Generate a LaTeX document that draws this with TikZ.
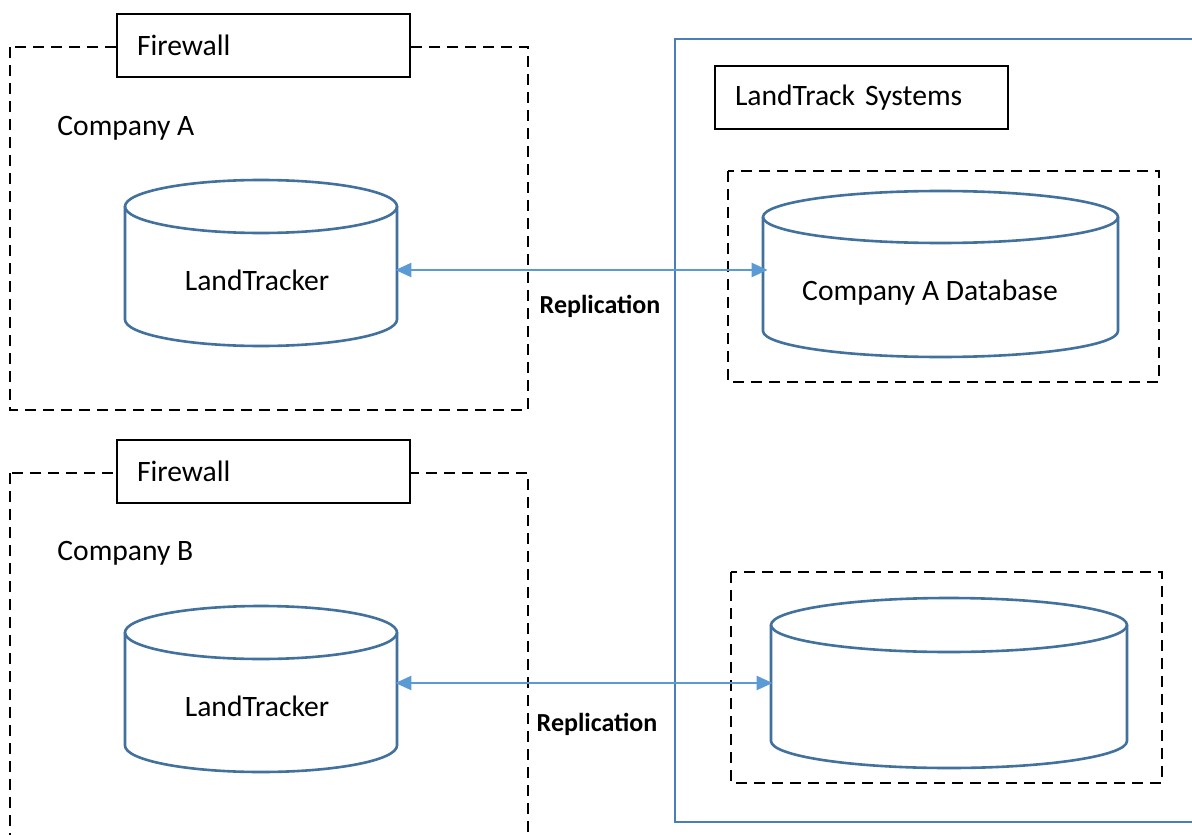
\documentclass[tikz,border=0pt]{standalone}
\usepackage{fontspec}
\setmainfont{Carlito}
\usetikzlibrary{arrows.meta}
\definecolor{cylblue}{HTML}{41719C}
\definecolor{arrblue}{HTML}{5B9BD5}
\definecolor{sysblue}{HTML}{4A7EBB}
\newcommand{\dbcyl}[6]{% name, x1, x2, ytop, ybot, ry
  \node[cylbox, minimum width={(#3-#2)*0.5pt}, minimum height={(#5-#4)*0.5pt}] (#1) at ({(#2+#3)/2},{(#4+#5)/2}) {};
  \draw[cyl] ({(#2+#3)/2},{#4+#6}) ellipse [x radius={(#3-#2)/2}, y radius=#6];
  \draw[cyl] (#2,{#4+#6}) -- (#2,{#5-#6})
    .. controls (#2,{#5-#6+0.5523*#6}) and ({(#2+#3)/2-0.5523*(#3-#2)/2},#5) .. ({(#2+#3)/2},#5)
    .. controls ({(#2+#3)/2+0.5523*(#3-#2)/2},#5) and (#3,{#5-#6+0.5523*#6}) .. (#3,{#5-#6})
    -- (#3,{#4+#6});
}
\begin{document}
\begin{tikzpicture}[x=0.5pt,y=-0.5pt,
  zone/.style={draw=black, line width=1.4pt, dash pattern=on 5.5pt off 3.5pt},
  tagbox/.style={draw=black, fill=white, line width=1pt, minimum width=146.5pt, minimum height=31.5pt,
    text width=126.5pt, inner xsep=10pt, inner ysep=0pt, align=left, font=\fontsize{14.8}{17}\selectfont},
  cylbox/.style={inner sep=0pt, draw=none},
  cyl/.style={draw=cylblue, line width=1.3pt},
  sysline/.style={draw=sysblue, line width=1.3pt},
  rep/.style={draw=arrblue, line width=1.2pt, {Triangle[length=8pt,width=7pt]}-{Triangle[length=8pt,width=7pt]}},
  lbl/.style={font=\fontsize{14.8}{17}\selectfont, inner sep=0pt},
  replbl/.style={font=\bfseries\fontsize{13}{15}\selectfont, inner sep=0pt}
]
\useasboundingbox (0,0) rectangle (1192,834);
\fill[white] (0,0) rectangle (1192,834);

% LandTrack Systems outline
\draw[sysline] (1215,39) -- (675,39) -- (675,822) -- (1215,822);

% Company A zone
\draw[zone] (10,47) rectangle (528,410);
\node[tagbox] (fwA) at (263.5,45.5) {Firewall};
\node[lbl, anchor=west] (compA) at (57,128) {Company A};
\dbcyl{cA}{125}{397}{180}{346}{26.5}
\node[lbl] (tA) at (257,280) {LandTracker};

% Company B zone
\draw[zone] (10,473) -- (10,850) (528,850) -- (528,473) -- (10,473);
\node[tagbox] (fwB) at (263.5,471) {Firewall};
\node[lbl, anchor=west] (compB) at (57,553) {Company B};
\dbcyl{cB}{125}{397}{606}{772}{26.5}
\node[lbl] (tB) at (257,706) {LandTracker};

% LandTrack Systems
\node[tagbox] (sys) at (861.5,98) {LandTrack Systems};
\draw[zone] (728,171) rectangle (1159,382);
\dbcyl{cR1}{763}{1118}{191}{357}{26}
\node[lbl] (tR1) at (930,293) {Company A Database};
\draw[zone] (731,572) rectangle (1162,783);
\dbcyl{cR2}{771}{1127}{598}{768}{27}

% Replication arrows
\coordinate (yA) at (0,270);
\coordinate (yB) at (0,683);
\draw[rep, shorten <=-1pt, shorten >=-2.5pt] (cA.east |- yA) -- (cR1.west |- yA);
\draw[rep, shorten <=-1pt, shorten >=-1pt] (cB.east |- yB) -- (cR2.west |- yB);
\node[replbl] (rA) at (600,306) {Replication};
\node[replbl] (rB) at (597,724) {Replication};
\end{tikzpicture}
\end{document}
